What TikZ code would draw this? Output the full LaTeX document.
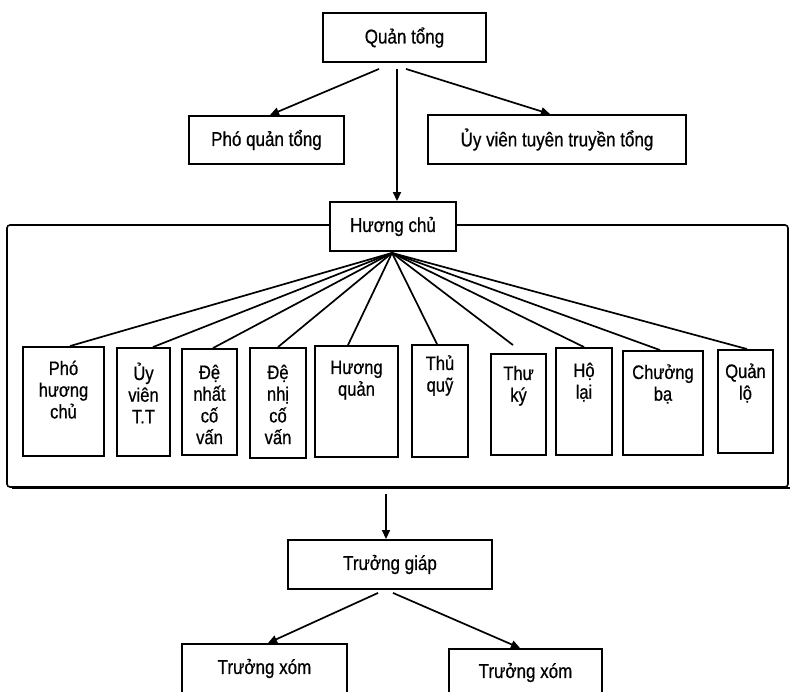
\documentclass[tikz,border=0pt]{standalone}
\usepackage{fontspec}
\setmainfont{Liberation Sans}[FakeStretch=0.85,FakeBold=0.6]
\usetikzlibrary{arrows.meta}
\begin{document}
\begin{tikzpicture}[x=1pt,y=-1pt,
  box/.style={draw, line width=1.9pt, fill=white, inner sep=0pt, font=\fontsize{20}{22}\selectfont},
  lbl/.style={anchor=base, inner sep=0pt, font=\fontsize{19.5}{21.7}\selectfont},
  conn/.style={line width=1.7pt},
  arr/.style={line width=1.7pt, -{Triangle[length=9pt,width=8pt]}},
  frame/.style={draw, line width=1.6pt, rounded corners=3pt, inner sep=0pt}
  ]
\useasboundingbox (0,0) rectangle (790,692);
\clip (0,0) rectangle (790,692);
\fill[white] (0,0) rectangle (790,692);

% top level
\node[box, minimum width=163pt, minimum height=49pt] (qt) at (404.5,37.5) {Quản tổng};
\node[box, minimum width=155pt, minimum height=48pt] (pq) at (266.5,140) {Phó quản tổng};
\node[box, minimum width=258pt, minimum height=49pt] (uv) at (557,139.5) {Ủy viên tuyên truyền tổng};

% frame
\node[frame, minimum width=781pt, minimum height=262pt] (fr) at (397.5,356) {};
\draw[line width=2.2pt] ([xshift=6pt]fr.south west) -- ([xshift=3pt]fr.south east);

\node[box, minimum width=126pt, minimum height=49pt] (hc) at (393,226.5) {Hương chủ};

% tall boxes
\node[box, minimum width=81pt, minimum height=109pt] (b1) at (63.5,401.5) {};
\node[lbl] (t1) at (63.5,375) {\parbox[t]{75pt}{\centering Phó\\hương\\chủ}};
\node[box, minimum width=53pt, minimum height=108pt] (b2) at (143.5,402) {};
\node[lbl] (t2) at (143.5,380) {\parbox[t]{50pt}{\centering Ủy\\viên\\T.T}};
\node[box, minimum width=55pt, minimum height=106pt] (b3) at (209.5,402) {};
\node[lbl] (t3) at (209.5,379) {\parbox[t]{52pt}{\centering Đệ\\nhất\\cố\\vấn}};
\node[box, minimum width=56pt, minimum height=110pt] (b4) at (278,403) {};
\node[lbl] (t4) at (278,379) {\parbox[t]{52pt}{\centering Đệ\\nhị\\cố\\vấn}};
\node[box, minimum width=83pt, minimum height=111pt] (b5) at (356.5,401.5) {};
\node[lbl] (t5) at (356.5,374) {\parbox[t]{78pt}{\centering Hương\\quản}};
\node[box, minimum width=56pt, minimum height=112pt] (b6) at (440,401) {};
\node[lbl] (t6) at (440,370) {\parbox[t]{52pt}{\centering Thủ\\quỹ}};
\node[box, minimum width=55pt, minimum height=101pt] (b7) at (518.5,404.5) {};
\node[lbl] (t7) at (518.5,380) {\parbox[t]{52pt}{\centering Thư\\ký}};
\node[box, minimum width=56pt, minimum height=107pt] (b8) at (584,401.5) {};
\node[lbl] (t8) at (584,377) {\parbox[t]{52pt}{\centering Hộ\\lại}};
\node[box, minimum width=80pt, minimum height=104pt] (b9) at (663,403) {};
\node[lbl] (t9) at (663,379) {\parbox[t]{76pt}{\centering Chưởng\\bạ}};
\node[box, minimum width=55pt, minimum height=103pt] (b10) at (745.5,401.5) {};
\node[lbl] (t10) at (745.5,378) {\parbox[t]{52pt}{\centering Quản\\lộ}};

% bottom
\node[box, minimum width=204pt, minimum height=49pt] (tg) at (390,564.5) {Trưởng giáp};
\node[box, minimum width=165pt, minimum height=49pt] (x1) at (264.5,668.5) {Trưởng xóm};
\node[box, minimum width=153pt, minimum height=47pt] (x2) at (525.5,672.5) {Trưởng xóm};

% arrows from Quan tong
\draw[arr] ([xshift=-25.5pt,yshift=-6pt]qt.south) -- ([xshift=3.5pt]pq.north);
\draw[arr] ([xshift=1.5pt,yshift=-6pt]qt.south) -- ([xshift=-7pt]uv.north);
\draw[arr] ([xshift=-7.5pt,yshift=-6pt]qt.south) -- ([xshift=4pt]hc.north);

% fan lines from Huong chu
\foreach \b/\s in {b1/6.5, b2/9.5, b3/3.5, b4/0, b5/-8.5, b6/-3, b8/0, b9/-3, b10/1.5}
  \draw[conn] ([xshift=-1pt,yshift=-1pt]hc.south) -- ([xshift=\s pt]\b.north);
\draw[conn] ([xshift=-1pt,yshift=-1pt]hc.south) -- ([xshift=-5.5pt,yshift=8pt]b7.north);

% to Truong giap and below
\draw[arr] ([xshift=-11.5pt,yshift=-6pt]fr.south) -- ([xshift=-4pt]tg.north);
\draw[arr] ([xshift=-12pt,yshift=-3pt]tg.south) -- ([xshift=3.5pt]x1.north);
\draw[arr] ([xshift=3pt,yshift=-3pt]tg.south) -- ([xshift=-5.5pt]x2.north);
\end{tikzpicture}
\end{document}
